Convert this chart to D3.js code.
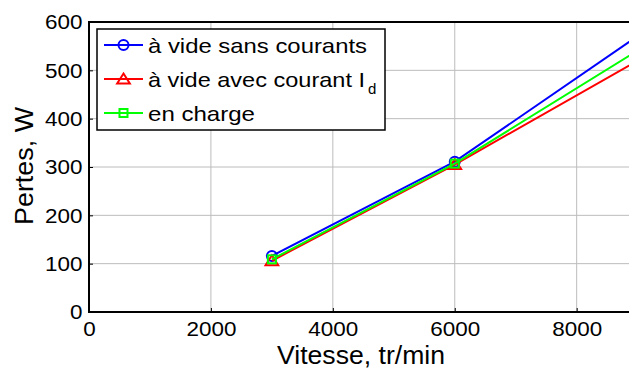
<!DOCTYPE html>
<html>
<head>
<meta charset="utf-8">
<script src="https://cdn.jsdelivr.net/npm/d3@7"></script>
<style>
  html, body { margin: 0; padding: 0; background: #fff; }
  svg { display: block; font-family: Arial, "Liberation Sans", sans-serif; }
</style>
</head>
<body>
<svg id="chart" width="629" height="369"></svg>
<script>
// Losses vs speed for three operating conditions
const speeds = [3000, 6000, 9000];
const lossNoCurrent = [116, 311, 571];
const lossWithId = [106, 305, 520];
const lossLoaded = [109, 307, 541];

const xTicks = [0, 2000, 4000, 6000, 8000];
const yTicks = [0, 100, 200, 300, 400, 500, 600];

const series = [
  { name: "à vide sans courants", values: lossNoCurrent, color: "#0000ff", marker: "circle", len: 219 },
  { name: "à vide avec courant I", sub: "d", values: lossWithId, color: "#ff0000", marker: "triangle", len: 217 },
  { name: "en charge", values: lossLoaded, color: "#00ff00", marker: "square", len: 107 }
];

const svg = d3.select("#chart");
const plotLeft = 89, plotTop = 22, plotBottom = 312;
const x = d3.scaleLinear().domain([0, 9000]).range([plotLeft, plotLeft + 9 * 60.96]);
const y = d3.scaleLinear().domain([0, 600]).range([plotBottom, plotTop]);

// grid
svg.append("g").selectAll("line").data(xTicks.slice(1)).join("line")
  .attr("x1", d => x(d)).attr("x2", d => x(d))
  .attr("y1", plotTop).attr("y2", plotBottom)
  .attr("stroke", "#bcbcbc").attr("stroke-width", 1);
svg.append("g").selectAll("line").data(yTicks.slice(1, -1)).join("line")
  .attr("x1", plotLeft).attr("x2", 629)
  .attr("y1", d => y(d)).attr("y2", d => y(d))
  .attr("stroke", "#bcbcbc").attr("stroke-width", 1);

// axes
const xAxis = d3.axisBottom(x).tickValues(xTicks).tickSize(-4).tickPadding(10).tickFormat(d3.format("d"));
const yAxis = d3.axisLeft(y).tickValues(yTicks).tickSize(-4).tickPadding(6).tickFormat(d3.format("d"));
const gx = svg.append("g").attr("transform", `translate(0,${plotBottom})`).call(xAxis);
const gy = svg.append("g").attr("transform", `translate(${plotLeft},0)`).call(yAxis);
[gx, gy].forEach(g => {
  g.select(".domain").remove();
  g.selectAll(".tick line").attr("stroke", "#000");
  g.selectAll(".tick text").attr("font-size", 21).attr("fill", "#000")
    .attr("font-family", "Arial, 'Liberation Sans', sans-serif")
    .attr("transform", "scale(1.07,1)");
});
gx.selectAll(".tick text").attr("y", 9).attr("dy", "0.71em");

// plot frame
svg.append("line").attr("x1", plotLeft).attr("x2", plotLeft).attr("y1", plotTop - 1).attr("y2", plotBottom + 1)
  .attr("stroke", "#000").attr("stroke-width", 2);
svg.append("line").attr("x1", plotLeft).attr("x2", 629).attr("y1", plotBottom).attr("y2", plotBottom)
  .attr("stroke", "#000").attr("stroke-width", 2);
svg.append("line").attr("x1", plotLeft).attr("x2", 629).attr("y1", plotTop).attr("y2", plotTop)
  .attr("stroke", "#000").attr("stroke-width", 2);

// series lines and markers
const line = d3.line().x((d, i) => x(speeds[i])).y(d => y(d));
function drawMarker(g, type, cx, cy, color, s) {
  if (type === "circle") {
    g.append("circle").attr("cx", cx).attr("cy", cy).attr("r", s)
      .attr("fill", "none").attr("stroke", color).attr("stroke-width", 2);
  } else if (type === "triangle") {
    const h = s * 1.1;
    g.append("path").attr("d", `M${cx},${cy - h}L${cx + h * 1.15},${cy + h * 0.8}L${cx - h * 1.15},${cy + h * 0.8}Z`)
      .attr("fill", "none").attr("stroke", color).attr("stroke-width", 2);
  } else {
    g.append("rect").attr("x", cx - s * 0.8).attr("y", cy - s * 0.8)
      .attr("width", s * 1.6).attr("height", s * 1.6)
      .attr("fill", "none").attr("stroke", color).attr("stroke-width", 2);
  }
}
const plot = svg.append("g");
series.forEach(s => {
  plot.append("path").attr("d", line(s.values)).attr("fill", "none")
    .attr("stroke", s.color).attr("stroke-width", 2);
  s.values.forEach((v, i) => drawMarker(plot, s.marker, x(speeds[i]), y(v), s.color, 5));
});

// axis titles
svg.append("text").attr("x", 361).attr("y", 364).attr("text-anchor", "middle")
  .attr("font-size", 26).attr("textLength", 168).attr("lengthAdjust", "spacingAndGlyphs")
  .text("Vitesse, tr/min");
svg.append("text").attr("transform", `translate(33,166) rotate(-90)`)
  .attr("text-anchor", "middle").attr("font-size", 26)
  .attr("textLength", 118).attr("lengthAdjust", "spacingAndGlyphs").text("Pertes, W");

// legend
const lg = svg.append("g");
lg.append("rect").attr("x", 97).attr("y", 29).attr("width", 288).attr("height", 101)
  .attr("fill", "#fff").attr("stroke", "#000").attr("stroke-width", 1.5);
const rowY = [45, 79, 113];
series.forEach((s, i) => {
  const yy = rowY[i];
  lg.append("line").attr("x1", 104).attr("x2", 143).attr("y1", yy).attr("y2", yy)
    .attr("stroke", s.color).attr("stroke-width", 2);
  drawMarker(lg, s.marker, 123.5, yy, s.color, 5);
  lg.append("text").attr("x", 148).attr("y", yy + 7.5).attr("font-size", 21)
    .attr("textLength", s.len).attr("lengthAdjust", "spacingAndGlyphs").text(s.name);
  if (s.sub) {
    lg.append("text").attr("x", 148 + s.len + 3).attr("y", yy + 15).attr("font-size", 15).text(s.sub);
  }
});
</script>
</body>
</html>
